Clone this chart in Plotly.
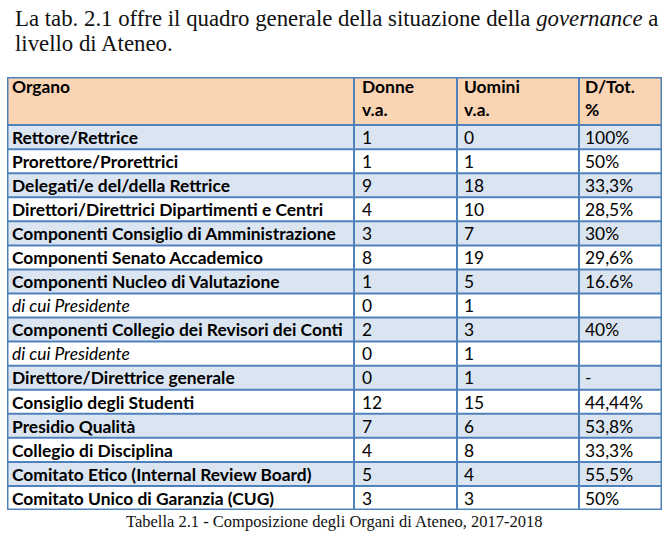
import plotly.graph_objects as go

W, H = 669, 537

header_line1 = ["Organo", "Donne", "Uomini", "D/Tot."]
header_line2 = ["", "v.a.", "v.a.", "%"]
organi = [
    "Rettore/Rettrice",
    "Prorettore/Prorettrici",
    "Delegati/e del/della Rettrice",
    "Direttori/Direttrici Dipartimenti e Centri",
    "Componenti Consiglio di Amministrazione",
    "Componenti Senato Accademico",
    "Componenti Nucleo di Valutazione",
    "di cui Presidente",
    "Componenti Collegio dei Revisori dei Conti",
    "di cui Presidente",
    "Direttore/Direttrice generale",
    "Consiglio degli Studenti",
    "Presidio Qualità",
    "Collegio di Disciplina",
    "Comitato Etico (Internal Review Board)",
    "Comitato Unico di Garanzia (CUG)",
]
donne = [1, 1, 9, 4, 3, 8, 1, 0, 2, 0, 0, 12, 7, 4, 5, 3]
uomini = [0, 1, 18, 10, 7, 19, 5, 1, 3, 1, 1, 15, 6, 8, 4, 3]
d_tot = ["100%", "50%", "33,3%", "28,5%", "30%", "29,6%", "16.6%", "", "40%", "",
         "-", "44,44%", "53,8%", "33,3%", "55,5%", "50%"]

BORDER = "#4F81BD"
PEACH = "#FBD4B4"
BLUE = "#DBE5F1"
WHITE = "#FFFFFF"

col_widths = [347, 103, 122, 83]
col_left = [0]
for w in col_widths[:-1]:
    col_left.append(col_left[-1] + w)
total_w = sum(col_widths)
n = len(organi)
header_rows = 2
total_rows = header_rows + n

font_fam = "Lato, Carlito, Liberation Sans, sans-serif"
FS = 17.4

row_y = [header_rows + i + 0.5 for i in range(n)]
text_y = [y + 0.1 for y in row_y]
labels_fmt = [("<i>%s</i>" % o) if o.startswith("di cui") else ("<b>%s</b>" % o) for o in organi]
row_fill = [BLUE if i % 2 == 0 else WHITE for i in range(n)]

ML, MR, MT, MB = 7, W - 662, 77, H - 510
PW, PH = W - ML - MR, H - MT - MB


def px(x):
    return (x - ML) / PW


def py(y):
    return 1 - (y - MT) / PH


fig = go.Figure()

# backgrounds
fig.add_trace(go.Bar(
    orientation="h", y=[header_rows / 2] + row_y, x=[total_w] * (n + 1), base=0,
    width=[header_rows] + [1] * n,
    marker=dict(color=[PEACH] + row_fill, line=dict(width=0)),
    hoverinfo="skip", showlegend=False))

pad = [5, 8, 7, 6]
# header
fig.add_trace(go.Scatter(
    x=[col_left[j] + pad[j] for j in range(4)], y=[0.5] * 4, mode="text",
    text=["<b>%s</b>" % h for h in header_line1], textposition="middle right",
    textfont=dict(family=font_fam, size=FS, color="black"), hoverinfo="skip", showlegend=False))
fig.add_trace(go.Scatter(
    x=[col_left[j] + pad[j] for j in range(4)], y=[1.46] * 4, mode="text",
    text=["<b>%s</b>" % h for h in header_line2], textposition="middle right",
    textfont=dict(family=font_fam, size=FS, color="black"), hoverinfo="skip", showlegend=False))

columns = [labels_fmt, [str(d) for d in donne], [str(u) for u in uomini], d_tot]
for j, col in enumerate(columns):
    fig.add_trace(go.Scatter(
        x=[col_left[j] + pad[j]] * n, y=text_y, mode="text", text=col,
        textposition="middle right",
        textfont=dict(family=font_fam, size=FS, color="black"),
        hoverinfo="skip", showlegend=False))

# grid lines
for xb in col_left[1:]:
    fig.add_shape(type="line", xref="x", yref="y", x0=xb, x1=xb, y0=0, y1=total_rows,
                  line=dict(color=BORDER, width=2), layer="above")
for yb in range(header_rows, total_rows):
    fig.add_shape(type="line", xref="x", yref="y", x0=0, x1=total_w, y0=yb, y1=yb,
                  line=dict(color=BORDER, width=2), layer="above")
fig.add_shape(type="rect", xref="x", yref="y", x0=0, x1=total_w, y0=0, y1=total_rows,
              line=dict(color=BORDER, width=3), layer="above")

serif = "Liberation Serif, Times New Roman, serif"
fig.add_annotation(x=px(13), y=py(19), xref="paper", yref="paper",
                   xanchor="left", yanchor="middle", showarrow=False,
                   text="La tab. 2.1 offre il quadro generale della situazione della <i>governance</i> a",
                   font=dict(family=serif, size=22.8, color="#111111"))
fig.add_annotation(x=px(13), y=py(43), xref="paper", yref="paper",
                   xanchor="left", yanchor="middle", showarrow=False,
                   text="livello di Ateneo.",
                   font=dict(family=serif, size=22.8, color="#111111"))
fig.add_annotation(x=px(334), y=py(521), xref="paper", yref="paper",
                   xanchor="center", yanchor="middle", showarrow=False,
                   text="Tabella 2.1 - Composizione degli Organi di Ateneo, 2017-2018",
                   font=dict(family=serif, size=16.5, color="#111111"))

fig.update_layout(
    width=W, height=H, margin=dict(l=ML, r=MR, t=MT, b=MB, pad=0),
    paper_bgcolor="white", plot_bgcolor="white",
    xaxis=dict(range=[0, total_w], visible=False, fixedrange=True),
    yaxis=dict(range=[total_rows, 0], visible=False, fixedrange=True),
    barmode="overlay", showlegend=False,
)

fig.write_html("out.html", config={"displayModeBar": False},
               post_script="document.body.style.margin='0px';document.body.style.overflow='hidden';")
